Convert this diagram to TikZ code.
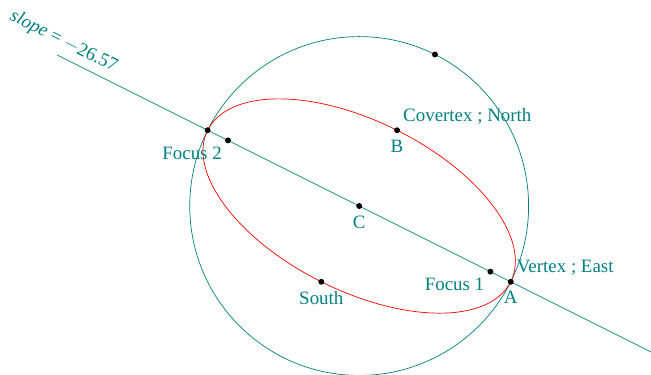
\documentclass[tikz,border=0pt]{standalone}
\usepackage{amsmath}
\usepackage{fontspec}
\setmainfont{Liberation Serif}
\usepackage{tikz}

\begin{document}
\begin{tikzpicture}[scale=0.85, every node/.style={text=teal, font=\fontsize{10.8}{13}\selectfont}]
\clip (-8.48,-3.967) rectangle (6.89,4.864);
%\draw[help lines, step=1, white!50!gray] (-9,-4) grid (7,5);

% Points
\coordinate (C) at (0,0);
\coordinate (A) at (3.578,-1.789);
\coordinate (W) at (-3.578,1.789);
\coordinate (B) at (0.894,1.789);
\coordinate (S) at (-0.894,-1.789);
\coordinate (N) at (1.789,3.578);
\coordinate (F1) at (3.098,-1.549);
\coordinate (F2) at (-3.098,1.549);
\coordinate (L1) at (-7.136,3.568);
\coordinate (L2) at (7.2,-3.6);

% Line
\draw[teal] (L1) -- (L2) node[pos=0, sloped, above] (slope) {\textit{slope} = $-$26.57};

% Curve
\draw[teal] (C) circle (4);
\draw[red, rotate=-26.565] (C) ellipse (4 and 2);

\draw[fill, black] (C) circle (0.6mm) node[below=2pt] (lC) {C};
\draw[fill, black] (A) circle (0.6mm) node[below=2pt] (lA) {A}
  node[above right] (lE) {Vertex ; East};
\draw[fill, black] (W) circle (0.6mm);
\draw[fill, black] (B) circle (0.6mm) node[below=2pt] (lB) {B}
  node[above right] (lN) {Covertex ; North};
\draw[fill, black] (S) circle (0.6mm) node[below=2pt] (lS) {South};
\draw[fill, black] (N) circle (0.6mm);
\draw[fill, black] (F1) circle (0.6mm) node[below left] (lF1) {Focus 1};
\draw[fill, black] (F2) circle (0.6mm) node[below left] (lF2) {Focus 2};

\end{tikzpicture}
\end{document}
